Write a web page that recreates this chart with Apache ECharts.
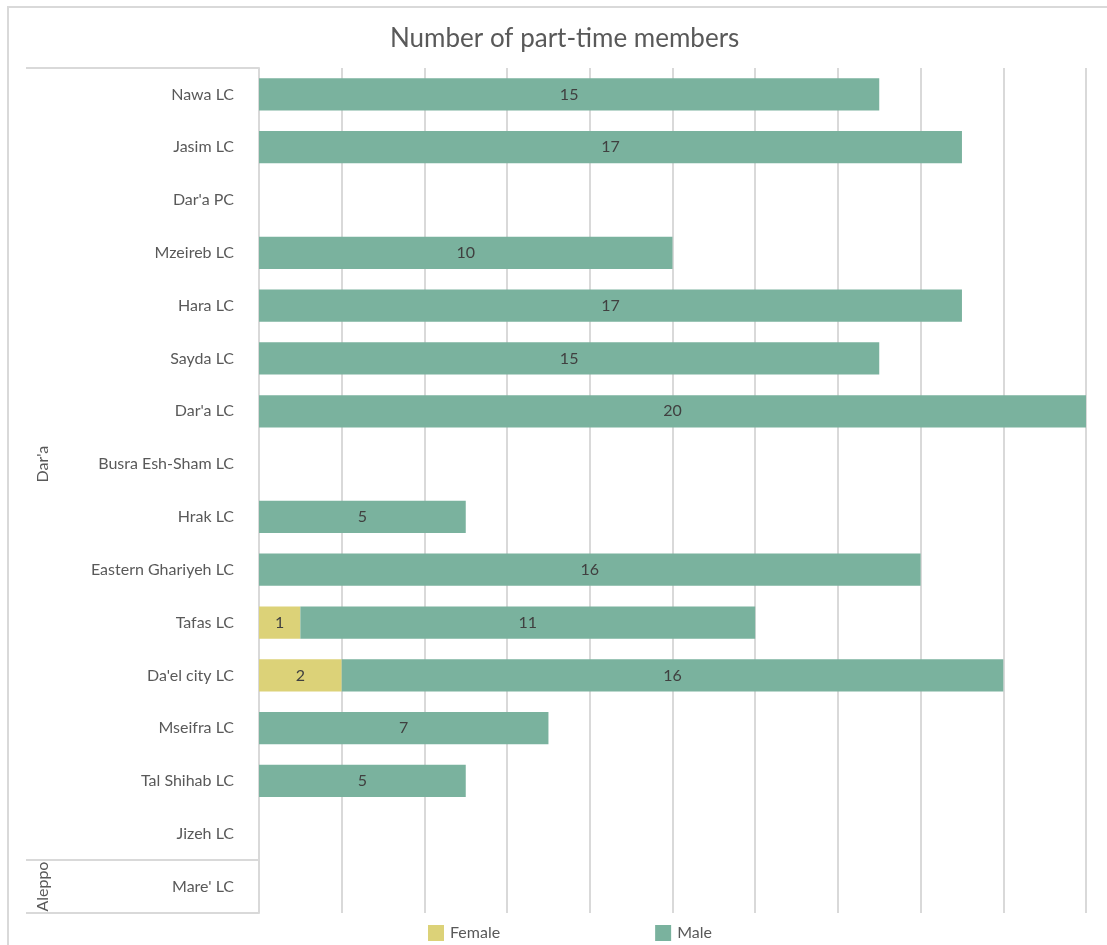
<!DOCTYPE html>
<html>
<head>
<meta charset="utf-8">
<script src="https://cdn.jsdelivr.net/npm/echarts@6/dist/echarts.min.js"></script>
<style>
  html, body { margin: 0; padding: 0; background: #ffffff; }
  #chart { width: 1107px; height: 945px; }
</style>
</head>
<body>
<div id="chart"></div>
<script>
// Local councils, listed top to bottom
const categories = [
  "Nawa LC", "Jasim LC", "Dar'a PC", "Mzeireb LC", "Hara LC", "Sayda LC",
  "Dar'a LC", "Busra Esh-Sham LC", "Hrak LC", "Eastern Ghariyeh LC",
  "Tafas LC", "Da'el city LC", "Mseifra LC", "Tal Shihab LC", "Jizeh LC",
  "Mare' LC"
];
// Governorates and how many councils each covers (in order)
const groupNames = ["Dar'a", "Aleppo"];
const groupSizes = [15, 1];

// Part-time members by sex (null = no members)
const female = [null, null, null, null, null, null, null, null, null, null, 1, 2, null, null, null, null];
const male   = [15, 17, null, 10, 17, 15, 20, null, 5, 16, 11, 16, 7, 5, null, null];

const xTicks = { min: 0, max: 20, step: 2 };

// Second category axis: group name centred on its span, ticks at group starts
const groupLabels = categories.map(() => '');
const groupStarts = [];
let start = 0;
groupNames.forEach((name, i) => {
  groupStarts.push(start);
  groupLabels[start + Math.floor(groupSizes[i] / 2)] = name;
  start += groupSizes[i];
});

const FONT = 'Lato';
const TEXT = '#595959';
const GRID = '#d9d9d9';

const chart = echarts.init(document.getElementById('chart'), null, { renderer: 'canvas' });

chart.setOption({
  backgroundColor: '#ffffff',
  animation: false,
  textStyle: { fontFamily: FONT },
  title: {
    text: 'Number of part-time members',
    left: 385,
    top: 21,
    textStyle: { fontFamily: FONT, fontSize: 26, fontWeight: 'normal', color: TEXT }
  },
  graphic: [{
    type: 'rect',
    shape: { x: 8, y: 7, width: 1120, height: 960 },
    style: { fill: 'none', stroke: GRID, lineWidth: 2 },
    silent: true,
    z: -1
  }],
  legend: {
    left: 428,
    top: 925,
    padding: 0,
    itemWidth: 16,
    itemHeight: 16,
    itemGap: 155,
    icon: 'rect',
    textStyle: { fontFamily: FONT, fontSize: 16, color: TEXT, padding: [0, 0, 2, 1] },
    data: ['Female', 'Male']
  },
  grid: { left: 259, right: 21, top: 68, bottom: 32, containLabel: false },
  xAxis: {
    type: 'value',
    min: xTicks.min,
    max: xTicks.max,
    interval: xTicks.step,
    axisLabel: { show: false },
    axisLine: { show: false },
    axisTick: { show: false },
    splitLine: { show: true, lineStyle: { color: GRID, width: 2 } }
  },
  yAxis: [{
    type: 'category',
    inverse: true,
    data: categories,
    axisLine: { show: true, lineStyle: { color: GRID, width: 2 } },
    axisTick: { show: false },
    axisLabel: { margin: 25, color: TEXT, fontSize: 16, fontFamily: FONT, interval: 0, padding: [0, 0, 3, 0] }
  }, {
    type: 'category',
    inverse: true,
    position: 'left',
    offset: 0,
    data: groupLabels,
    axisLine: { show: false },
    axisTick: {
      show: true,
      length: 233,
      interval: (idx) => groupStarts.indexOf(idx) !== -1,
      lineStyle: { color: GRID, width: 2 }
    },
    axisLabel: { rotate: 90, margin: 208, color: TEXT, fontSize: 16, fontFamily: FONT, interval: 0 }
  }],
  series: [{
    name: 'Female',
    type: 'bar',
    stack: 'members',
    barCategoryGap: '39%',
    data: female,
    itemStyle: { color: '#dcd278' },
    label: { show: true, position: 'inside', color: '#404040', fontSize: 16, fontFamily: FONT }
  }, {
    name: 'Male',
    type: 'bar',
    stack: 'members',
    barCategoryGap: '39%',
    data: male,
    itemStyle: { color: '#7ab29e' },
    label: { show: true, position: 'inside', color: '#404040', fontSize: 16, fontFamily: FONT }
  }]
});
</script>
</body>
</html>
